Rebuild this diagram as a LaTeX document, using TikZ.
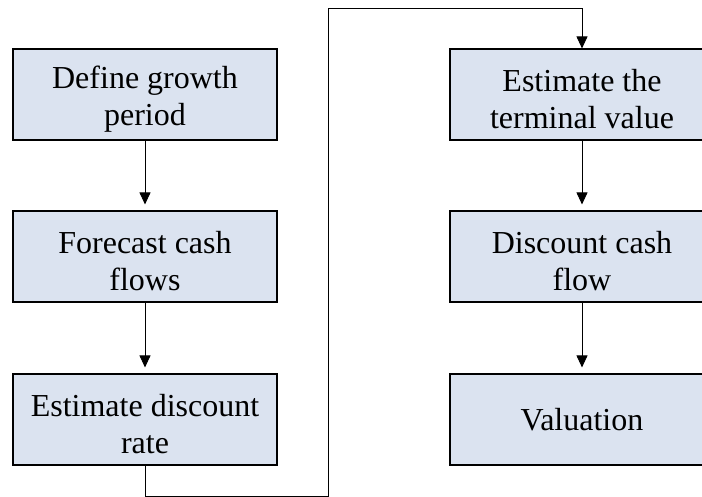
\documentclass[tikz,border=0pt]{standalone}
\usepackage{fontspec}
\setmainfont{Liberation Serif}
\usetikzlibrary{arrows.meta}
\definecolor{boxfill}{HTML}{DBE3F0}
% taller first line so two-line labels sit a little lower in their boxes
\newcommand{\toplift}{\rule{0pt}{31pt}}
\begin{document}
\begin{tikzpicture}[x=1pt,y=1pt,
  stagebox/.style={draw=black, line width=1.1pt, fill=boxfill,
    minimum width=264pt, minimum height=91pt, inner sep=0pt,
    align=center, font=\fontsize{32}{37}\selectfont},
  flow/.style={line width=0.9pt, -{Triangle[length=12pt,width=11pt]}, shorten >=6pt}]
\useasboundingbox (0,0) rectangle (702,497);
\clip (0,0) rectangle (702,497);
% left column
\node[stagebox] (growth)   at (145,402.5) {\toplift Define growth\\period};
\node[stagebox] (forecast) at (145,240.5) {\toplift Forecast cash\\flows};
\node[stagebox] (rate)     at (145,77.5)  {\toplift Estimate discount\\rate};
% right column
\node[stagebox] (terminal) at (582,402.5) {\toplift Estimate the\\terminal value};
\node[stagebox] (discount) at (582,240.5) {\toplift Discount cash\\flow};
\node[stagebox] (valuation) at (582,77.5) {Valuation};
% connectors
\draw[flow] (growth.south) -- (forecast.north);
\draw[flow] (forecast.south) -- (rate.north);
\draw[flow] (terminal.south) -- (discount.north);
\draw[flow] (discount.south) -- (valuation.north);
\coordinate (lowturn) at (328,1);
\coordinate (highturn) at (328,489);
\draw[flow, shorten >=0pt] (rate.south) |- (lowturn) -- (highturn) -| (terminal.north);
\end{tikzpicture}
\end{document}
